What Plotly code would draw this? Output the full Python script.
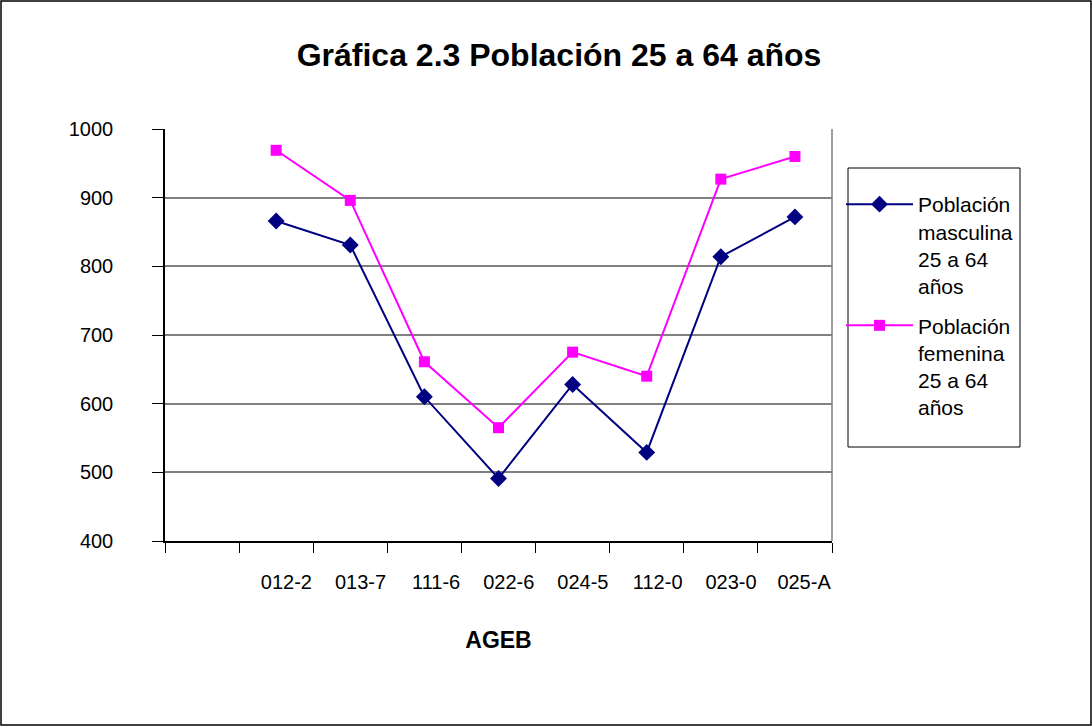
"""Gráfica 2.3 Población 25 a 64 años - recreación con Plotly."""

import plotly.graph_objects as go

# Datos
ageb = ["012-2", "013-7", "111-6", "022-6", "024-5", "112-0", "023-0", "025-A"]
masculina = [866, 831, 610, 491, 628, 529, 814, 872]
femenina = [969, 896, 661, 565, 675, 640, 927, 960]
y_ticks = [400, 500, 600, 700, 800, 900, 1000]

# Excel deja una categoría vacía al inicio
x_pos = list(range(1, len(ageb) + 1))
boundaries = [i - 0.5 for i in range(0, len(ageb) + 2)]
boundary_text = ["", ""] + ageb

FONT = "Liberation Sans, Arial, sans-serif"

fig = go.Figure()

fig.add_trace(go.Scatter(
    x=x_pos, y=masculina, mode="lines+markers", legendgroup="m",
    name="Población<br>masculina<br>25 a 64<br>años",
    line=dict(color="#000080", width=2),
    marker=dict(symbol="diamond", size=13, color="#000080"),
))
fig.add_trace(go.Scatter(
    x=x_pos, y=femenina, mode="lines+markers", legendgroup="f",
    name="Población<br>femenina<br>25 a 64<br>años",
    line=dict(color="#FF00FF", width=2),
    marker=dict(symbol="square", size=11, color="#FF00FF"),
))

L, R, T, B = 165, 832, 129, 541
W, H = 1092, 726
pw, ph = R - L, B - T


def px_x(v):
    return (v - L) / pw


def px_y(v):
    return (B - v) / ph


fig.update_layout(
    width=W, height=H,
    margin=dict(l=L, r=W - R, t=T, b=H - B),
    paper_bgcolor="white", plot_bgcolor="white",
    font=dict(family=FONT, size=20, color="black"),
    title=dict(
        text="<b>Gráfica 2.3 Población 25 a 64 años</b>",
        xref="container", x=559 / W, xanchor="center",
        yref="container", y=1 - 55 / H, yanchor="middle",
        font=dict(size=32, family=FONT),
    ),
    legend=dict(
        x=px_x(841), xanchor="left", y=px_y(184), yanchor="top",
        bgcolor="rgba(0,0,0,0)", borderwidth=0,
        font=dict(size=21, family=FONT),
        tracegroupgap=9, itemwidth=67, valign="top",
    ),
    showlegend=True,
)

fig.update_xaxes(
    range=[-0.5, len(ageb) + 0.5],
    tickmode="array", tickvals=boundaries, ticktext=boundary_text,
    ticks="outside", ticklen=10, tickcolor="black", tickwidth=1,
    ticklabelposition="outside left", ticklabelstandoff=22,
    showline=True, linecolor="black", linewidth=1.5,
    showgrid=False, zeroline=False,
    title=dict(text="<b>AGEB</b>", standoff=40, font=dict(size=23)),
)
fig.update_yaxes(
    range=[400, 1000],
    tickmode="array", tickvals=y_ticks,
    ticks="outside", ticklen=11, tickcolor="black", tickwidth=1,
    ticklabelstandoff=35,
    showline=True, linecolor="black", linewidth=1.5,
    showgrid=True, gridcolor="#808080", gridwidth=1.5, zeroline=False,
)

# Borde derecho del área de trazado
fig.add_shape(type="line", xref="paper", yref="paper", x0=1, x1=1, y0=0, y1=1,
              line=dict(color="#808080", width=1.5))
# Cuadro de la leyenda
fig.add_shape(type="rect", xref="paper", yref="paper",
              x0=px_x(848), x1=px_x(1020), y0=px_y(168), y1=px_y(447),
              line=dict(color="black", width=1))
# Marco exterior
fig.add_shape(type="rect", xref="paper", yref="paper",
              x0=px_x(1), x1=px_x(W - 1), y0=px_y(H - 1), y1=px_y(1),
              line=dict(color="black", width=1.5))

fig.write_html("out.html", config={"displayModeBar": False},
               post_script="document.body.style.margin='0';")
